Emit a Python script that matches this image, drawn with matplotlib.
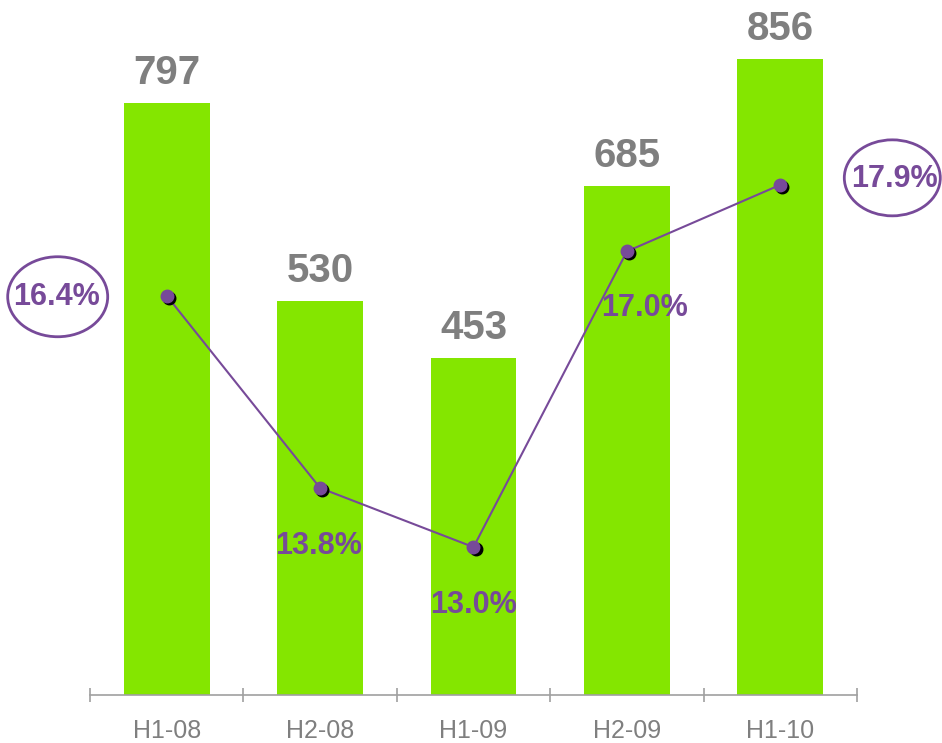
import matplotlib
matplotlib.use("Agg")
import matplotlib.pyplot as plt
import matplotlib.transforms as mtransforms
from matplotlib.patches import Ellipse

periods = ["H1-08", "H2-08", "H1-09", "H2-09", "H1-10"]
sales = [797, 530, 453, 685, 856]
margin = [16.4, 13.8, 13.0, 17.0, 17.9]

green = "#84E600"
purple = "#774A99"
grey = "#7F7F7F"

plt.rcParams["font.family"] = ["Liberation Sans", "DejaVu Sans"]

fig = plt.figure(figsize=(9.42, 7.43), dpi=100)
ax = fig.add_axes([90 / 942, 48 / 743, 767 / 942, 695 / 743])
x = list(range(len(periods)))

ax.bar(x, sales, width=0.56, color=green, zorder=1)
ax.set_xlim(-0.5, len(periods) - 0.5)
ax.set_ylim(0, 935)
for xi, v in zip(x, sales):
    ax.annotate(str(v), (xi, v), xytext=(0, 21.5), textcoords="offset points",
                ha="center", va="center", fontsize=29, fontweight="bold", color=grey)

for s in ["left", "right", "top"]:
    ax.spines[s].set_visible(False)
ax.spines["bottom"].set_color("#A0A0A0")
ax.spines["bottom"].set_linewidth(1.2)
ax.set_yticks([])
ax.set_xticks(x)
ax.set_xticklabels(periods, fontsize=18, color=grey)
ax.tick_params(axis="x", which="major", length=0, pad=17)
ax.set_xticks([i - 0.5 for i in range(len(periods) + 1)], minor=True)
ax.tick_params(axis="x", which="minor", length=10, direction="inout", color="#A0A0A0", width=1.2)

# margin line on its own scale
ax2 = ax.twinx()
ax2.set_ylim(11.0, 20.4)
ax2.axis("off")
ax2.plot(x, margin, color=purple, lw=1.5, zorder=3)
shadow = ax2.transData + mtransforms.ScaledTranslation(1.5 / 72, -1.5 / 72, fig.dpi_scale_trans)
ax2.plot(x, margin, "o", color="black", ms=9, transform=shadow, zorder=3)
ax2.plot(x, margin, "o", color=purple, ms=9, zorder=4)

# label offsets in points
offsets = [(-79, -1), (-1, -42), (0, -42), (13, -41), (82, 4)]
for xi, v, (dx, dy) in zip(x, margin, offsets):
    ax2.annotate(f"{v:.1f}%", (xi, v), xytext=(dx, dy), textcoords="offset points",
                 ha="center", va="center", fontsize=22, fontweight="bold",
                 color=purple, zorder=5, annotation_clip=False)

# ovals around first and last values
for i, (dx, dy), w, h in [(0, (-1.09, -0.01), 1.0, 0.8), (4, (1.12, 0.07), 0.96, 0.76)]:
    tr = fig.dpi_scale_trans + mtransforms.ScaledTranslation(x[i], margin[i], ax2.transData)
    e = Ellipse((dx, dy), w, h, transform=tr, fill=False, edgecolor=purple, lw=2, clip_on=False)
    fig.add_artist(e)

fig.savefig("out.png", dpi=100)
